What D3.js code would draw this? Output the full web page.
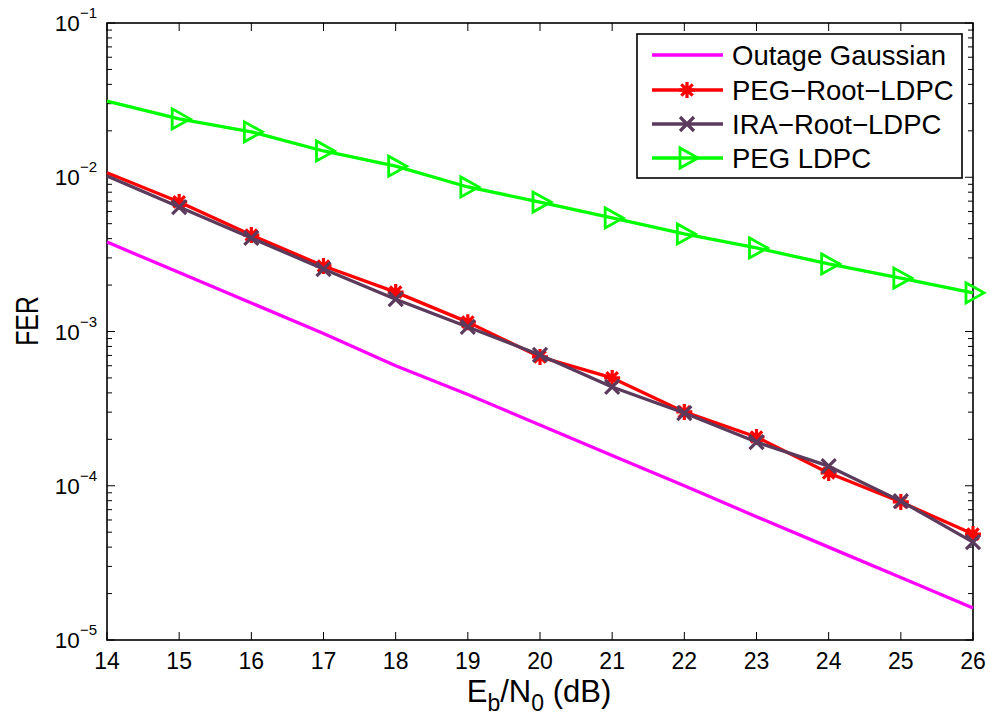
<!DOCTYPE html>
<html><head><meta charset="utf-8">
<script src="https://cdn.jsdelivr.net/npm/d3@7"></script>
<style>body{margin:0;background:#fff}svg{display:block}text{font-family:"Liberation Sans",Arial,Helvetica,sans-serif;fill:#000}</style>
</head><body>
<script>
const snr = [14,15,16,17,18,19,20,21,22,23,24,25,26];
const outageGaussian = [3.80e-3,2.41e-3,1.53e-3,9.7e-4,6.0e-4,3.9e-4,2.48e-4,1.57e-4,1.0e-4,6.3e-5,4.0e-5,2.54e-5,1.61e-5];
const pegRootLdpc = [1.07e-2,6.92e-3,4.22e-3,2.66e-3,1.80e-3,1.15e-3,6.84e-4,5.0e-4,3.01e-4,2.07e-4,1.21e-4,7.85e-5,4.86e-5];
const iraRootLdpc = [1.02e-2,6.41e-3,4.04e-3,2.54e-3,1.62e-3,1.07e-3,7.05e-4,4.37e-4,2.96e-4,1.92e-4,1.34e-4,7.95e-5,4.31e-5];
const pegLdpc = [3.12e-2,2.39e-2,1.97e-2,1.48e-2,1.18e-2,8.65e-3,6.91e-3,5.45e-3,4.29e-3,3.48e-3,2.74e-3,2.22e-3,1.78e-3];
const seriesNames = ["Outage Gaussian","PEG\u2212Root\u2212LDPC","IRA\u2212Root\u2212LDPC","PEG LDPC"];
const xTicks = [14,15,16,17,18,19,20,21,22,23,24,25,26];
const yDecades = [-5,-4,-3,-2,-1];

const W=990,H=722;
const L=107,R=973,T=23,B=640;
const svg=d3.select("body").append("svg").attr("width",W).attr("height",H);
const x=d3.scaleLinear().domain([14,26]).range([L,R]);
const y=d3.scaleLog().domain([1e-5,1e-1]).range([B,T]);

const series=[
 {name:seriesNames[0],vals:outageGaussian,color:"#ff00ff",marker:null},
 {name:seriesNames[1],vals:pegRootLdpc,color:"#ff0000",marker:"star"},
 {name:seriesNames[2],vals:iraRootLdpc,color:"#5b3a5c",marker:"x"},
 {name:seriesNames[3],vals:pegLdpc,color:"#00ff00",marker:"tri"}
];

function drawMarker(g,type,cx,cy,color){
  if(type==="star"){
    const r=8,d=5.7;
    const p=`M${cx},${cy-r}L${cx},${cy+r}M${cx-r},${cy}L${cx+r},${cy}M${cx-d},${cy-d}L${cx+d},${cy+d}M${cx-d},${cy+d}L${cx+d},${cy-d}`;
    g.append("path").attr("d",p).attr("stroke",color).attr("stroke-width",3.2).attr("fill","none");
  } else if(type==="x"){
    const d=7;
    const p=`M${cx-d},${cy-d}L${cx+d},${cy+d}M${cx-d},${cy+d}L${cx+d},${cy-d}`;
    g.append("path").attr("d",p).attr("stroke",color).attr("stroke-width",3.2).attr("fill","none");
  } else if(type==="tri"){
    const p=`M${cx-7},${cy-10}L${cx-7},${cy+10}L${cx+11},${cy}Z`;
    g.append("path").attr("d",p).attr("stroke",color).attr("stroke-width",2.8).attr("fill","none").attr("stroke-linejoin","miter");
  }
}

const ax=svg.append("g");
xTicks.forEach(t=>{
  const px=x(t);
  ax.append("line").attr("x1",px).attr("x2",px).attr("y1",B).attr("y2",B-8).attr("stroke","#000").attr("stroke-width",1);
  ax.append("line").attr("x1",px).attr("x2",px).attr("y1",T).attr("y2",T+8).attr("stroke","#000").attr("stroke-width",1);
  ax.append("text").attr("x",px).attr("y",B+29).attr("text-anchor","middle").attr("font-size",23).text(t);
});
yDecades.forEach(e=>{
  const v=Math.pow(10,e), py=y(v);
  ax.append("line").attr("x1",L).attr("x2",L+8).attr("y1",py).attr("y2",py).attr("stroke","#000");
  ax.append("line").attr("x1",R).attr("x2",R-8).attr("y1",py).attr("y2",py).attr("stroke","#000");
  if(e<-1){
    for(let k=2;k<=9;k++){
      const pm=y(k*Math.pow(10,e));
      ax.append("line").attr("x1",L).attr("x2",L+5).attr("y1",pm).attr("y2",pm).attr("stroke","#000");
      ax.append("line").attr("x1",R).attr("x2",R-5).attr("y1",pm).attr("y2",pm).attr("stroke","#000");
    }
  }
  const t=ax.append("text").attr("x",97).attr("y",py+8).attr("text-anchor","end").attr("font-size",22.5);
  t.append("tspan").text("10");
  t.append("tspan").attr("font-size",15).attr("dy",-13).text("\u2212"+(-e));
});
ax.append("rect").attr("x",L).attr("y",T).attr("width",R-L).attr("height",B-T).attr("fill","none").attr("stroke","#000").attr("stroke-width",1.6);

const line=d3.line().x((d,i)=>x(snr[i])).y(d=>y(d));
const pg=svg.append("g");
series.forEach(s=>{
  pg.append("path").datum(s.vals).attr("d",line).attr("fill","none").attr("stroke",s.color).attr("stroke-width",3.3).attr("stroke-linejoin","round");
  if(s.marker){
    s.vals.forEach((v,i)=>{ if(snr[i]>x.domain()[0]) drawMarker(pg,s.marker,x(snr[i]),y(v),s.color); });
  }
});

const xl=svg.append("text").attr("x",539).attr("y",702).attr("text-anchor","middle").attr("font-size",31);
xl.append("tspan").text("E");
xl.append("tspan").attr("font-size",23).attr("dy",9).text("b");
xl.append("tspan").attr("dy",-9).text("/N");
xl.append("tspan").attr("font-size",23).attr("dy",9).text("0");
xl.append("tspan").attr("dy",-9).text(" (dB)");
svg.append("text").attr("transform","translate(38,321) rotate(-90) scale(0.8,1)").attr("text-anchor","middle").attr("font-size",31).text("FER");

const lg=svg.append("g");
lg.append("rect").attr("x",637).attr("y",34).attr("width",325).attr("height",144).attr("fill","#fff").attr("stroke","#000").attr("stroke-width",1.6);
const rowsY=[55,90,124,158];
series.forEach((s,i)=>{
  const yy=rowsY[i];
  lg.append("line").attr("x1",652).attr("x2",723).attr("y1",yy).attr("y2",yy).attr("stroke",s.color).attr("stroke-width",3.3);
  if(s.marker) drawMarker(lg,s.marker,687,yy,s.color);
  lg.append("text").attr("x",732).attr("y",yy+10).attr("font-size",27.5).text(s.name);
});
</script>
</body></html>
